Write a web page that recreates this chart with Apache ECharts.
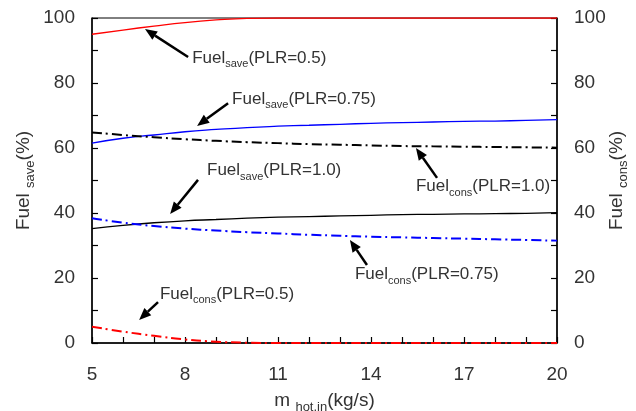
<!DOCTYPE html>
<html>
<head>
<meta charset="utf-8">
<script src="https://cdn.jsdelivr.net/npm/echarts@6/dist/echarts.min.js"></script>
<style>
  html, body { margin: 0; padding: 0; background: #fff; }
  #main { width: 636px; height: 411px; }
</style>
</head>
<body>
<div id="main"></div>
<script>
// mass flow rate of hot water (kg/s)
var flow = [5, 6, 7, 8, 9, 10, 11, 12, 13, 14, 15, 16, 17, 18, 19, 20];

// fuel saving (%), left axis
var saveP050 = [95, 96.3, 97.5, 98.6, 99.4, 99.9, 100, 100, 100, 100, 100, 100, 100, 100, 100, 100];
var saveP075 = [61.5, 63, 64, 65, 65.7, 66.3, 66.7, 67, 67.3, 67.6, 67.8, 68, 68.2, 68.3, 68.5, 68.7];
var saveP100 = [35.2, 36.2, 37, 37.6, 38, 38.4, 38.7, 38.9, 39.1, 39.3, 39.5, 39.6, 39.7, 39.8, 39.9, 40.1];

// fuel consumption (%), right axis
var consP100 = [64.8, 64, 63.3, 62.7, 62.2, 61.8, 61.5, 61.2, 61, 60.8, 60.6, 60.5, 60.4, 60.3, 60.2, 60.1];
var consP075 = [38.4, 37, 36, 35.2, 34.6, 34.1, 33.7, 33.3, 33, 32.7, 32.5, 32.3, 32.1, 31.9, 31.7, 31.5];
var consP050 = [5, 3.5, 2.2, 1.1, 0.4, 0.1, 0, 0, 0, 0, 0, 0, 0, 0, 0, 0];

// annotations: [kind, PLR text, text pos, arrow tail, arrow tip] (data coords)
var notes = [
  ['save', '(PLR=0.5)',  [8.23, 87.1], [8.10, 88.0], [6.71, 96.6]],
  ['save', '(PLR=0.75)', [9.52, 74.5], [9.39, 73.8], [8.39, 66.8]],
  ['cons', '(PLR=1.0)',  [15.45, 47.7], [16.13, 50.8], [15.45, 60.0]],
  ['save', '(PLR=1.0)',  [8.71, 52.6], [8.42, 50.2], [7.52, 39.7]],
  ['cons', '(PLR=0.75)', [13.48, 20.6], [13.87, 24.0], [13.32, 31.7]],
  ['cons', '(PLR=0.5)',  [7.19, 14.5], [7.13, 12.6], [6.52, 7.1]]
];

var FONT = 'Liberation Sans';
var myChart = echarts.init(document.getElementById('main'));

function pairs(ys) {
  return flow.map(function (x, i) { return [x, ys[i]]; });
}
function solid(name, ys, color) {
  return { name: name, type: 'line', data: pairs(ys), yAxisIndex: 0, showSymbol: false, smooth: true,
    lineStyle: { color: color, width: 1.3 }, silent: true };
}
function dashdot(name, ys, color) {
  return { name: name, type: 'line', data: pairs(ys), yAxisIndex: 1, showSymbol: false, smooth: true,
    lineStyle: { color: color, width: 2, type: [10, 4, 2, 4] }, silent: true };
}

var axisCommon = {
  type: 'value', min: 0, max: 100, interval: 10,
  axisLine: { show: true, lineStyle: { color: '#000', width: 1.5 } },
  axisTick: { show: true, inside: true, length: 6, lineStyle: { color: '#000', width: 1.2 } },
  splitLine: { show: false },
  axisLabel: {
    fontSize: 19, color: '#333', fontFamily: FONT, margin: 17,
    formatter: function (v) { return v % 20 === 0 ? v : ''; }
  },
  nameLocation: 'middle', nameRotate: 90, nameMoveOverlap: false,
  nameTextStyle: {
    fontFamily: FONT, color: '#333',
    rich: {
      n: { fontSize: 19, fontFamily: FONT, color: '#333', padding: [0, 0, 4, 0], verticalAlign: 'bottom' },
      s: { fontSize: 13, fontFamily: FONT, color: '#333', verticalAlign: 'bottom' }
    }
  }
};

var options = {
  animation: false,
  grid: { left: 92, right: 79, top: 18, bottom: 68, show: true, borderColor: '#000', borderWidth: 1,
    outerBoundsMode: 'none', containLabel: false },
  xAxis: {
    type: 'value', min: 5, max: 20, interval: 1,
    axisLine: { lineStyle: { color: '#000', width: 1.5 } },
    axisTick: { show: true, inside: true, length: 6, lineStyle: { color: '#000', width: 1.2 } },
    splitLine: { show: false },
    axisLabel: {
      fontSize: 19, color: '#333', fontFamily: FONT, margin: 22,
      formatter: function (v) { return (v - 5) % 3 === 0 ? v : ''; }
    },
    name: '{n|m }{s|hot,in}{n|(kg/s)}',
    nameLocation: 'middle', nameGap: 48, nameMoveOverlap: false,
    nameTextStyle: {
      rich: {
        n: { fontSize: 19, fontFamily: FONT, color: '#333', padding: [0, 0, 4, 0], verticalAlign: 'bottom' },
        s: { fontSize: 13, fontFamily: FONT, color: '#333', verticalAlign: 'bottom' }
      }
    }
  },
  yAxis: [
    Object.assign({}, axisCommon, { position: 'left', name: '{n|Fuel }{s|save}{n|(%)}', nameGap: 55 }),
    Object.assign({}, axisCommon, { position: 'right', name: '{n|Fuel }{s|cons}{n|(%)}', nameGap: 50 })
  ],
  series: [
    solid('save0.5', saveP050, '#ff0000'),
    solid('save0.75', saveP075, '#0000ff'),
    solid('save1.0', saveP100, '#000000'),
    dashdot('cons1.0', consP100, '#000000'),
    dashdot('cons0.75', consP075, '#0000ff'),
    dashdot('cons0.5', consP050, '#ff0000')
  ]
};
myChart.setOption(options);

// annotation texts and arrows, placed through the axes
var graphics = [];
notes.forEach(function (nt) {
  var t = myChart.convertToPixel({ gridIndex: 0 }, nt[2]);
  var a = myChart.convertToPixel({ gridIndex: 0 }, nt[3]);
  var b = myChart.convertToPixel({ gridIndex: 0 }, nt[4]);
  graphics.push({
    type: 'text', x: t[0], y: t[1], z: 10,
    style: {
      text: '{n|Fuel}{s|' + nt[0] + '}{n|' + nt[1] + '}',
      verticalAlign: 'middle', align: 'left',
      rich: {
        n: { fontSize: 17, fontFamily: FONT, fill: '#333', padding: [0, 0, 3, 0], verticalAlign: 'bottom' },
        s: { fontSize: 11, fontFamily: FONT, fill: '#333', verticalAlign: 'bottom' }
      }
    }
  });
  var dx = b[0] - a[0], dy = b[1] - a[1];
  var len = Math.sqrt(dx * dx + dy * dy);
  var ux = dx / len, uy = dy / len;
  var hl = 12, hw = 5;
  var bx = b[0] - ux * hl, by = b[1] - uy * hl;
  graphics.push({
    type: 'line', z: 10,
    shape: { x1: a[0], y1: a[1], x2: bx, y2: by },
    style: { stroke: '#000', lineWidth: 2.5 }
  });
  graphics.push({
    type: 'polygon', z: 10,
    shape: { points: [[b[0], b[1]], [bx - uy * hw, by + ux * hw], [bx + uy * hw, by - ux * hw]] },
    style: { fill: '#000' }
  });
});
myChart.setOption({ graphic: graphics });
</script>
</body>
</html>
